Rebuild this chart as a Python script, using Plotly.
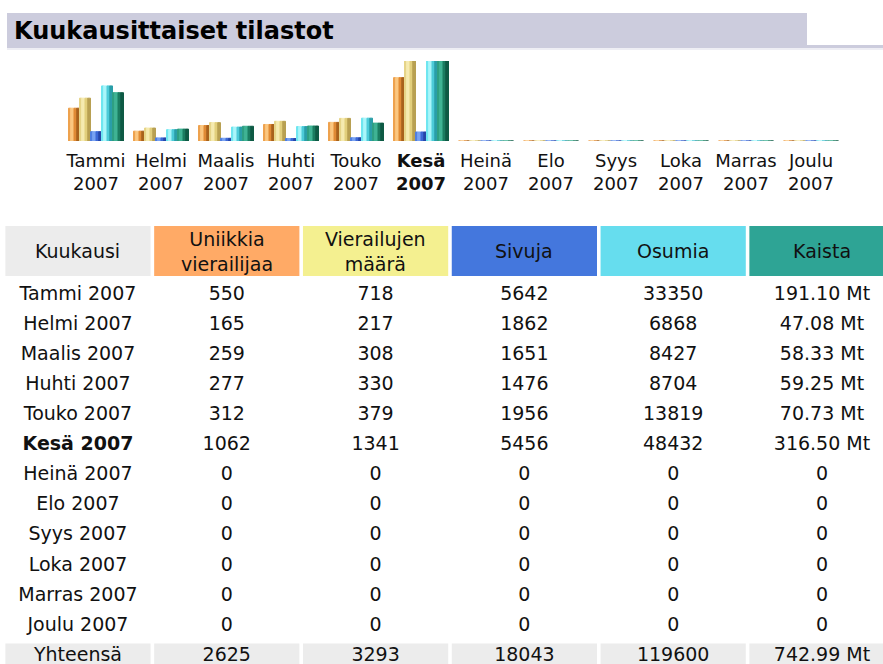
import plotly.graph_objects as go

# ---------------- data ----------------
months = ["Tammi", "Helmi", "Maalis", "Huhti", "Touko", "Kesä",
          "Heinä", "Elo", "Syys", "Loka", "Marras", "Joulu"]
year = "2007"
current_month = "Kesä"

visitors = [550, 165, 259, 277, 312, 1062, 0, 0, 0, 0, 0, 0]
visits = [718, 217, 308, 330, 379, 1341, 0, 0, 0, 0, 0, 0]
pages = [5642, 1862, 1651, 1476, 1956, 5456, 0, 0, 0, 0, 0, 0]
hits = [33350, 6868, 8427, 8704, 13819, 48432, 0, 0, 0, 0, 0, 0]
bandwidth_mt = [191.10, 47.08, 58.33, 59.25, 70.73, 316.50, 0, 0, 0, 0, 0, 0]

title_text = "Kuukausittaiset tilastot"
col_keys = ["Kuukausi", "Uniikkia vierailijaa", "Vierailujen määrä",
            "Sivuja", "Osumia", "Kaista"]
col_headers = ["Kuukausi", "Uniikkia<br>vierailijaa", "Vierailujen<br>määrä",
               "Sivuja", "Osumia", "Kaista"]
total_label = "Yhteensä"
bw_unit = "Mt"

# ---------------- style ----------------
W, H = 883, 664
FONT = "DejaVu Sans"
header_colors = ["#ececec", "#ffaa66", "#f4f090", "#4477dd", "#66ddee", "#2ea495"]

# per-series shading strips (fraction start, fraction end, color)
shades = [
    [(0.0, 0.2, "#eea24e"), (0.2, 0.5, "#fbc780"), (0.5, 0.75, "#e08a35"), (0.75, 1.0, "#a8621c")],
    [(0.0, 0.2, "#e6d488"), (0.2, 0.5, "#f6ebb0"), (0.5, 0.75, "#e2cf7c"), (0.75, 1.0, "#b8a052")],
    [(0.0, 0.2, "#4f7fe0"), (0.2, 0.5, "#78a2f2"), (0.5, 0.75, "#3c68d6"), (0.75, 1.0, "#2646a8")],
    [(0.0, 0.2, "#6fe6f0"), (0.2, 0.5, "#aaf6fa"), (0.5, 0.75, "#4ccbd8"), (0.75, 1.0, "#2a9ea8")],
    [(0.0, 0.2, "#2e9f82"), (0.2, 0.5, "#3fb394"), (0.5, 0.75, "#1a7c60"), (0.75, 1.0, "#0e5a44")],
]


def px_x(p):
    return p / W


def px_y(p):
    return 1 - p / H


fig = go.Figure()

# ---------------- bar chart ----------------
series = [(visitors, "y"), (visits, "y"), (pages, "y2"), (hits, "y2"), (bandwidth_mt, "y3")]
cat_px = 65.0
bar_w = 11.0 / cat_px
group_start = -2.5 * bar_w
for k, (vals, yax) in enumerate(series):
    for (f0, f1, col) in shades[k]:
        fig.add_trace(go.Bar(
            x=months, y=vals, xaxis="x", yaxis=yax,
            width=bar_w * (f1 - f0),
            offset=group_start + k * bar_w + f0 * bar_w,
            marker=dict(color=col, line=dict(color=col, width=1)),
            hoverinfo="skip", showlegend=False,
        ))

ticktext = [f"<b>{m}<br>{year}</b>" if m == current_month else f"{m}<br>{year}" for m in months]

# ---------------- table ----------------
row_labels = [f"{m} {year}" for m in months] + [total_label]


def fmt_int(v):
    return f"{v}"


def fmt_bw(v):
    return f"{v:.2f} {bw_unit}" if v else "0"


columns = [
    [f"{m} {year}" for m in months] + [total_label],
    [fmt_int(v) for v in visitors] + [fmt_int(sum(visitors))],
    [fmt_int(v) for v in visits] + [fmt_int(sum(visits))],
    [fmt_int(v) for v in pages] + [fmt_int(sum(pages))],
    [fmt_int(v) for v in hits] + [fmt_int(sum(hits))],
    [fmt_bw(v) for v in bandwidth_mt] + [fmt_bw(round(sum(bandwidth_mt), 2))],
]
cur_idx = months.index(current_month)
for ci, col in enumerate(columns):
    texts = [f"<b>{t}</b>" if (ri == cur_idx and ci == 0) else t for ri, t in enumerate(col)]
    fig.add_trace(go.Scatter(
        x=[col_keys[ci]] * len(row_labels), y=row_labels,
        xaxis="x2", yaxis="y4", mode="text", text=texts,
        textposition="middle center",
        textfont=dict(family=FONT, size=19, color="#111111"),
        hoverinfo="skip", showlegend=False,
    ))

shapes = []
# title band
shapes.append(dict(type="rect", xref="paper", yref="paper",
                   x0=px_x(7), x1=px_x(807), y0=px_y(48), y1=px_y(13),
                   fillcolor="#ccccdd", line=dict(width=0), layer="below"))
shapes.append(dict(type="rect", xref="paper", yref="paper",
                   x0=px_x(807), x1=px_x(883), y0=px_y(48), y1=px_y(45),
                   fillcolor="#ccccdd", line=dict(width=0), layer="below"))
shapes.append(dict(type="rect", xref="paper", yref="paper",
                   x0=px_x(7), x1=px_x(883), y0=px_y(50), y1=px_y(48),
                   fillcolor="#eeeef4", line=dict(width=0), layer="below"))
# header cells and totals row
half = 0.488
for i in range(len(col_keys)):
    shapes.append(dict(type="rect", xref="x2", yref="paper",
                       x0=i - half, x1=i + half, y0=px_y(276), y1=px_y(226),
                       fillcolor=header_colors[i], line=dict(width=0), layer="below"))
    shapes.append(dict(type="rect", xref="x2", yref="y4",
                       x0=i - half, x1=i + half, y0=11.5 + 0.08, y1=12.6,
                       fillcolor="#ececec", line=dict(width=0), layer="below"))

annotations = [dict(text=f"<b>{title_text}</b>", xref="paper", yref="paper",
                    x=px_x(12), y=px_y(31), xanchor="left", yanchor="middle",
                    showarrow=False, font=dict(family=FONT, size=24, color="#000000"))]
for i, h in enumerate(col_headers):
    annotations.append(dict(text=h, xref="x2", yref="paper", x=i, y=px_y(251),
                            xanchor="center", yanchor="middle", showarrow=False,
                            font=dict(family=FONT, size=19, color="#111111")))

fig.update_layout(
    width=W, height=H,
    margin=dict(l=0, r=0, t=0, b=0),
    paper_bgcolor="white", plot_bgcolor="white",
    barmode="overlay", showlegend=False,
    xaxis=dict(domain=[px_x(63.5), px_x(843.5)], range=[-0.5, 11.5],
               type="category", categoryarray=months,
               tickmode="array", tickvals=months, ticktext=ticktext,
               showgrid=False, zeroline=False, showline=False, ticks="",
               ticklabelstandoff=7,
               tickfont=dict(family=FONT, size=18, color="#111111"),
               anchor="y", fixedrange=True),
    yaxis=dict(domain=[px_y(141), px_y(61)], range=[0, max(visitors + visits)],
               visible=False, fixedrange=True, anchor="x"),
    yaxis2=dict(overlaying="y", range=[0, max(pages + hits)], visible=False, fixedrange=True, anchor="x"),
    yaxis3=dict(overlaying="y", range=[0, max(bandwidth_mt)], visible=False, fixedrange=True, anchor="x"),
    xaxis2=dict(domain=[0, 1], range=[-0.524, 5.41], type="category", categoryarray=col_keys,
                visible=False, fixedrange=True, anchor="y4"),
    yaxis4=dict(domain=[0, px_y(280)], range=[12.263, -0.4985], type="category",
                categoryarray=row_labels, visible=False, fixedrange=True, anchor="x2"),
    shapes=shapes, annotations=annotations,
)

fig.write_html("out.html", config={"displayModeBar": False},
               post_script="document.body.style.margin='0';")
